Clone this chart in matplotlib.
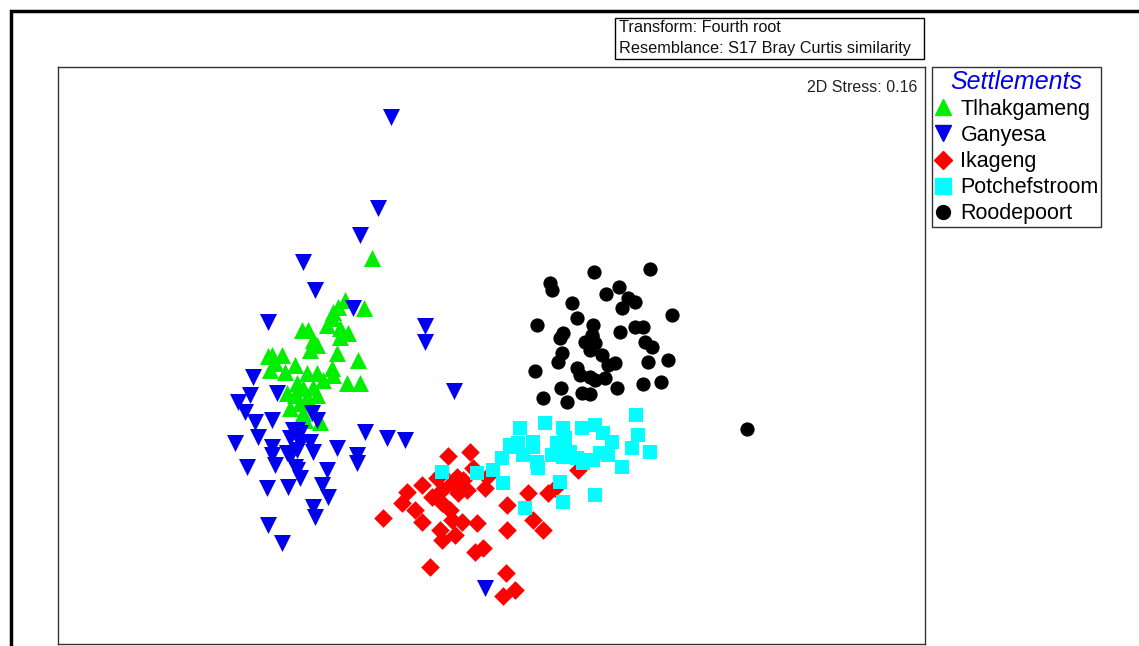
import matplotlib.pyplot as plt
import matplotlib.patches as mpatches
from matplotlib.lines import Line2D

plt.rcParams['font.family'] = ['Liberation Sans', 'DejaVu Sans']

# nMDS ordination scores (arbitrary units; y grows downwards)
tlh_x = [372, 364, 345, 338, 333, 332, 327, 340, 348, 340, 302, 308, 313, 317, 310,
         337, 358, 272, 282, 275, 270, 295, 285, 307, 317, 332, 333, 347, 360, 323,
         297, 303, 313, 287, 295, 307, 317, 290, 300, 303, 320, 305, 268]
tlh_y = [258, 308, 300, 307, 312, 318, 325, 328, 333, 337, 330, 330, 340, 345, 350,
         353, 360, 355, 355, 363, 370, 365, 372, 373, 373, 368, 375, 383, 383, 380,
         383, 388, 387, 393, 395, 397, 395, 408, 403, 413, 422, 420, 356]

gan_x = [391, 378, 360, 303, 315, 268, 425, 425, 454, 353, 253, 250, 277, 238, 245,
         272, 255, 312, 317, 297, 365, 387, 405, 258, 235, 272, 293, 300, 290, 300,
         310, 313, 287, 297, 272, 275, 247, 295, 290, 337, 357, 357, 327, 300, 288,
         267, 322, 328, 313, 315, 268, 282, 297, 485]
gan_y = [117, 208, 235, 262, 290, 322, 326, 342, 391, 308, 377, 395, 393, 402, 412,
         420, 422, 413, 420, 430, 432, 438, 440, 437, 443, 447, 430, 433, 438, 443,
         442, 452, 453, 450, 455, 465, 467, 467, 457, 448, 455, 463, 470, 478, 487,
         488, 485, 497, 507, 517, 525, 543, 470, 588]

ika_x = [448, 470, 473, 422, 407, 402, 415, 383, 422, 437, 432, 442, 442, 452, 457,
         463, 467, 458, 485, 487, 450, 452, 462, 477, 440, 455, 442, 475, 483, 507,
         507, 528, 548, 555, 533, 543, 578, 430, 506, 515, 503, 441]
ika_y = [456, 452, 468, 485, 492, 503, 510, 518, 522, 478, 497, 490, 503, 483, 477,
         480, 490, 493, 488, 477, 510, 520, 522, 523, 530, 535, 540, 552, 548, 505,
         530, 493, 493, 488, 520, 530, 470, 567, 573, 590, 596, 474]

pot_x = [442, 477, 493, 503, 525, 560, 563, 513, 533, 567, 583, 520, 545, 563, 582,
         595, 636, 638, 650, 603, 612, 632, 510, 518, 533, 502, 523, 537, 538, 552,
         557, 565, 570, 577, 563, 593, 600, 608, 622, 595, 583]
pot_y = [472, 473, 470, 483, 508, 482, 502, 447, 447, 453, 460, 428, 423, 428, 428,
         425, 415, 435, 452, 433, 442, 448, 445, 443, 442, 458, 455, 462, 468, 455,
         443, 438, 452, 458, 457, 460, 453, 455, 467, 495, 463]

roo_x = [594, 650, 550, 552, 606, 619, 628, 635, 622, 572, 672, 537, 577, 593, 592,
         585, 595, 563, 560, 620, 635, 643, 645, 652, 590, 562, 558, 602, 608, 615,
         648, 668, 535, 577, 580, 590, 595, 605, 643, 661, 617, 561, 582, 590, 543,
         567, 592, 747]
roo_y = [272, 269, 283, 290, 294, 287, 298, 302, 308, 303, 315, 325, 318, 325, 337,
         342, 343, 333, 338, 332, 327, 327, 342, 347, 350, 353, 362, 355, 365, 363,
         362, 360, 371, 368, 375, 377, 380, 378, 384, 382, 388, 388, 393, 394, 398,
         402, 335, 429]

groups = ['Tlhakgameng', 'Ganyesa', 'Ikageng', 'Potchefstroom', 'Roodepoort']

W, H = 1139, 646
fig = plt.figure(figsize=(W / 100, H / 100), dpi=100)

# outer thick frame (runs off the right and bottom of the image)
fig.patches.append(mpatches.Rectangle((11 / W, -0.05), 1.2, 1 - 11 / H + 0.05,
                                      transform=fig.transFigure, fill=False,
                                      edgecolor='black', linewidth=2.5))

ax = fig.add_axes([58 / W, (H - 644) / H, (925 - 58) / W, (644 - 67) / H])
ax.set_xlim(58, 925)
ax.set_ylim(644, 67)
ax.set_xticks([])
ax.set_yticks([])
for sp in ax.spines.values():
    sp.set_linewidth(1.0)
    sp.set_color('#333333')

ax.scatter(tlh_x, tlh_y, marker='^', s=150, color='#00ee00', linewidths=0, zorder=2)
ax.scatter(gan_x, gan_y, marker='v', s=150, color='#0000ee', linewidths=0, zorder=3)
ax.scatter(ika_x, ika_y, marker='D', s=90, color='#ff0000', linewidths=0, zorder=4)
ax.scatter(pot_x, pot_y, marker='s', s=100, color='#00ffff', linewidths=0, zorder=5)
ax.scatter(roo_x, roo_y, marker='o', s=105, color='black', linewidths=0, zorder=6)

ax.text(0.991, 0.977, '2D Stress: 0.16', transform=ax.transAxes, ha='right', va='top',
        fontsize=11.5, color='#222222')

# header box
fig.text(619 / W, 1 - 38 / H, 'Transform: Fourth root\nResemblance: S17 Bray Curtis similarity',
         ha='left', va='center', fontsize=11.7, linespacing=1.45, color='#111111')
fig.patches.append(mpatches.Rectangle((615 / W, 1 - 59 / H), (924 - 615) / W, (59 - 18) / H,
                                      transform=fig.transFigure, fill=False,
                                      edgecolor='black', linewidth=1.0))

handles = [
    Line2D([], [], marker='^', color='#00ee00', linestyle='', markersize=12),
    Line2D([], [], marker='v', color='#0000ee', linestyle='', markersize=12),
    Line2D([], [], marker='D', color='#ff0000', linestyle='', markersize=9),
    Line2D([], [], marker='s', color='#00ffff', linestyle='', markersize=11),
    Line2D([], [], marker='o', color='black', linestyle='', markersize=10),
]
leg = fig.legend(handles, groups, loc='upper left', bbox_to_anchor=(932 / W, 1 - 67 / H),
                 fontsize=15.5, title='Settlements', frameon=True, fancybox=False,
                 edgecolor='black', handlelength=0.75, handletextpad=0.45,
                 labelspacing=0.24, borderpad=0.12, borderaxespad=0)
leg.get_frame().set_linewidth(1.0)
leg.get_title().set_color('#0000ee')
leg.get_title().set_fontstyle('italic')
leg.get_title().set_fontsize(18)

fig.savefig('out.png', dpi=100)
